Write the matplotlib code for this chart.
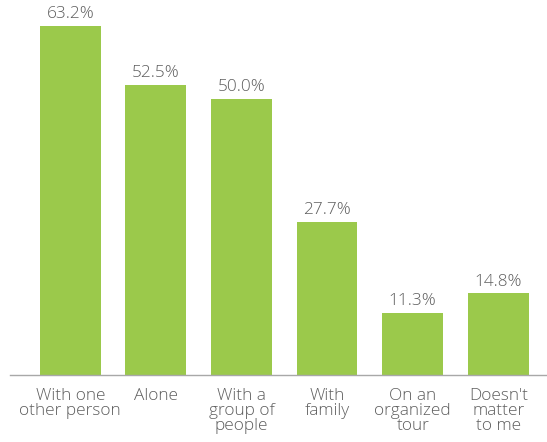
import matplotlib
matplotlib.use("Agg")
import matplotlib.pyplot as plt

categories = ["With one\nother person", "Alone", "With a\ngroup of\npeople",
              "With\nfamily", "On an\norganized\ntour", "Doesn't\nmatter\nto me"]
shares = [63.2, 52.5, 50.0, 27.7, 11.3, 14.8]

green = "#9bc94b"
grey_text = "#5e5e5e"

plt.rcParams['font.family'] = ['Open Sans', 'DejaVu Sans']

fig = plt.figure(figsize=(5.47, 4.42), dpi=100)
ax = fig.add_axes([10 / 547, 67 / 442, 537 / 547, 375 / 442])

xs = list(range(len(shares)))
bars = ax.bar(xs, shares, width=0.71, color=green)

for b, v in zip(bars, shares):
    ax.annotate(f"{v:.1f}%", (b.get_x() + b.get_width() / 2, v),
                xytext=(0, 2.5), textcoords="offset points",
                ha="center", va="bottom", fontsize=12.4,
                fontweight="light", color=grey_text)

ax.set_xlim(-0.704, 5.569)
ax.set_ylim(0, 67.85)
ax.set_xticks(xs)
ax.set_xticklabels(categories, fontsize=12.4, fontweight="light",
                   color=grey_text, linespacing=0.93, va="top")
ax.tick_params(axis="x", length=0, pad=9)
ax.set_yticks([])
for side in ["top", "right", "left"]:
    ax.spines[side].set_visible(False)
ax.spines["bottom"].set_color("#a8a8a8")
ax.spines["bottom"].set_linewidth(1.0)

fig.savefig("out.png", dpi=100)
